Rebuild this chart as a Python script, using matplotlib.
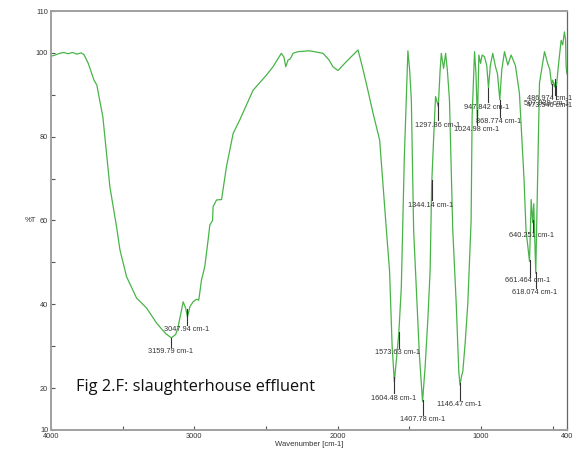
import matplotlib
matplotlib.use("Agg")
import matplotlib.pyplot as plt
from matplotlib.ticker import FixedLocator

# Spectrum (wavenumber in cm-1, transmittance in %T)
wavenumber = [4000, 3970, 3940, 3910, 3880, 3850, 3820, 3790, 3770, 3740, 3700, 3680,
              3638, 3589, 3542, 3519, 3473, 3403, 3333, 3263, 3200, 3159.79, 3130,
              3113, 3078, 3060, 3047.94, 3030, 3008, 2985, 2969, 2950, 2927, 2904,
              2892, 2873, 2869, 2845, 2810, 2776, 2729, 2683, 2590, 2497, 2451, 2393,
              2375, 2362, 2346, 2330, 2311, 2277, 2195, 2102, 2060, 2033, 1998, 1970,
              1940, 1858, 1830, 1800, 1753, 1707, 1660, 1638, 1620, 1604.48, 1590,
              1573.63, 1556, 1535, 1510, 1498, 1486, 1470, 1452, 1430, 1407.78, 1390,
              1371, 1355, 1344.14, 1330, 1317, 1297.86, 1285, 1277, 1261, 1247, 1235,
              1220, 1197, 1173, 1155, 1146.47, 1135, 1127, 1110, 1092, 1069, 1062,
              1045, 1035, 1024.98, 1015, 1003, 992, 976, 960, 947.842, 935, 918, 899,
              885, 868.774, 855, 836, 813, 790, 760, 732, 700, 686, 661.464, 650,
              640.251, 632, 618.074, 605, 592, 557, 535, 520, 507.9, 500, 486.974,
              480, 473.546, 460, 441, 430, 418, 410, 406, 400]
transmittance = [99.2, 99.5, 99.9, 100.1, 99.8, 100.1, 99.7, 100.0, 99.6, 97.5, 93.5, 92.3,
                 84.7, 68.0, 58.4, 53.0, 46.6, 41.5, 39.1, 35.5, 33.0, 32.0, 32.8,
                 34.6, 40.6, 39.0, 37.0, 39.5, 40.6, 41.2, 41.0, 45.8, 49.0, 55.3,
                 58.9, 60.0, 63.3, 64.9, 65.0, 72.8, 80.8, 84.0, 91.1, 94.7, 96.7, 99.9,
                 99.0, 96.7, 98.3, 98.6, 99.9, 100.3, 100.5, 99.9, 98.3, 96.7, 95.8, 96.8,
                 97.9, 100.7, 97.0, 92.7, 85.6, 79.2, 57.7, 48.0, 30.0, 21.5, 27.0,
                 33.0, 44.0, 75.0, 100.5, 96.0, 88.8, 57.7, 44.2, 28.0, 16.8, 25.0,
                 36.3, 48.0, 68.5, 80.0, 89.6, 87.2, 96.0, 99.9, 96.3, 99.9, 96.0,
                 88.8, 57.7, 40.3, 24.0, 20.7, 23.0, 23.9, 31.0, 40.2, 60.0, 84.8,
                 100.3, 95.0, 83.2, 99.5, 97.5, 99.5, 99.1, 97.0, 91.6, 97.0, 99.9, 96.7,
                 95.0, 88.8, 96.0, 100.3, 97.1, 99.5, 97.0, 90.4, 70.0, 57.7, 50.2, 65.0,
                 59.5, 64.0, 47.4, 70.0, 92.8, 100.3, 97.5, 96.0, 92.5, 93.5, 91.9,
                 93.0, 92.0, 97.0, 103.0, 101.9, 105.0, 103.0, 96.7, 95.0]

# peak labels: wavenumber, text
peak_wn = [3159.79, 3047.94, 1604.48, 1573.63, 1407.78, 1344.14, 1297.86, 1146.47,
           1024.98, 947.842, 868.774, 661.464, 640.251, 618.074, 507.9, 486.974, 473.546]
peak_text = ["3159.79 cm-1", "3047.94 cm-1", "1604.48 cm-1", "1573.63 cm-1",
             "1407.78 cm-1", "1344.14 cm-1", "1297.86 cm-1", "1146.47 cm-1",
             "1024.98 cm-1", "947.842 cm-1", "868.774 cm-1", "661.464 cm-1",
             "640.251 cm-1", "618.074 cm-1", "507.939 cm-1", "486.974 cm-1",
             "473.546 cm-1"]
# where each label sits (x in cm-1, y in %T) and the marker line span
label_x = [3166, 3052, 1611, 1580, 1411, 1352, 1301, 1149, 1028, 958, 878, 673, 650, 627,
           545, 522, 522]
label_y = [28.7, 33.9, 17.5, 28.5, 12.4, 63.5, 82.6, 16.2, 81.6, 87.0, 83.6, 45.6, 56.5,
           42.8, 88.0, 89.2, 87.4]
line_top = [32.0, 38.9, 22.7, 33.4, 17.2, 69.7, 88.0, 21.1, 86.4, 91.6, 88.8, 50.6, 60.0,
            47.8, 92.5, 93.8, 92.0]
line_bot = [29.8, 35.0, 18.8, 29.5, 13.6, 64.9, 84.0, 17.2, 82.8, 88.4, 84.8, 46.6, 57.3,
            43.8, 89.5, 90.0, 89.0]

fig = plt.figure(figsize=(5.84, 4.51), dpi=100)
ax = fig.add_axes([0.0873, 0.0466, 0.8836, 0.929])

ax.plot(wavenumber, transmittance, color="#48b448", lw=0.9)

for i in range(len(peak_wn)):
    ax.plot([peak_wn[i], peak_wn[i]], [line_bot[i], line_top[i]], color="#333333", lw=0.8)
    ax.text(label_x[i], label_y[i], peak_text[i], ha="center", va="center",
            fontsize=5.3, color="#333333", family="Liberation Sans")

ax.set_xlim(4000, 400)
ax.set_ylim(10, 110)
ax.xaxis.set_major_locator(FixedLocator([4000, 3000, 2000, 1000, 400]))
ax.xaxis.set_minor_locator(FixedLocator([3500, 2500, 1500, 500]))
ax.yaxis.set_major_locator(FixedLocator([10, 20, 40, 60, 80, 100, 110]))
ax.yaxis.set_minor_locator(FixedLocator([30, 50, 70, 90]))
ax.tick_params(which="both", direction="in", length=3, width=0.8, color="#555555",
               labelsize=5.3, labelcolor="#333333", pad=2)
for lab in ax.get_xticklabels() + ax.get_yticklabels():
    lab.set_family("Liberation Sans")

for side in ["left", "bottom", "top"]:
    ax.spines[side].set_color("#a0a0a0")
    ax.spines[side].set_linewidth(1.4)
ax.spines["right"].set_color("#666666")
ax.spines["right"].set_linewidth(0.9)

ax.set_xlabel("Wavenumber [cm-1]", fontsize=5.5, color="#333333", family="Liberation Sans",
              labelpad=1)
ax.text(-0.04, 60, "%T", transform=ax.get_yaxis_transform(), ha="center", va="center",
        fontsize=5.5, color="#333333", family="Liberation Sans")

ax.text(3826, 20.3, "Fig 2.F: slaughterhouse effluent", fontsize=11.8, color="#111111",
        family="Open Sans", ha="left", va="center")

plt.savefig("out.png", dpi=100)
